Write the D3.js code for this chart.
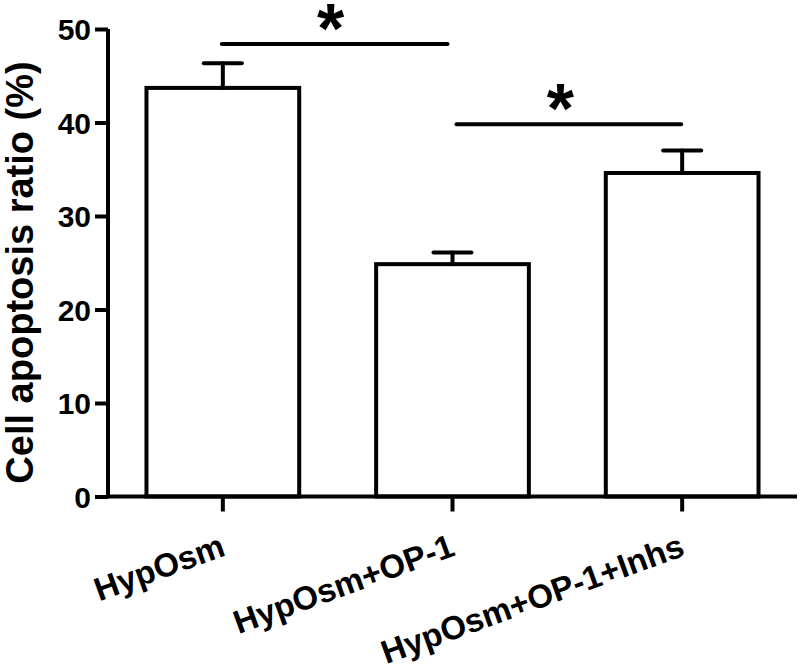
<!DOCTYPE html>
<html>
<head>
<meta charset="utf-8">
<script src="https://cdn.jsdelivr.net/npm/d3@7"></script>
<style>
  body { margin: 0; background: #fff; }
  svg text { font-family: "Liberation Sans", Arial, sans-serif; font-weight: bold; fill: #000; }
</style>
</head>
<body>
<div id="chart"></div>
<script>
// data
var groups = ["HypOsm", "HypOsm+OP-1", "HypOsm+OP-1+Inhs"];
var means = [43.7, 24.85, 34.6];
var errs = [2.65, 1.25, 2.4];
var yTicks = [0, 10, 20, 30, 40, 50];
var sigFrom = ["HypOsm", "HypOsm+OP-1"];
var sigTo = ["HypOsm+OP-1", "HypOsm+OP-1+Inhs"];
var sigLevel = [48.4, 39.8];
var sigMark = ["*", "*"];

var width = 800, height = 669;
var x0 = 108, x1 = 797, yTop = 29, yBot = 496.5;

var svg = d3.select("#chart").append("svg")
  .attr("width", width)
  .attr("height", height);

var x = d3.scaleBand()
  .domain(groups)
  .range([x0, x1])
  .paddingInner(0.335)
  .paddingOuter(0.1675);

var y = d3.scaleLinear()
  .domain([0, 50])
  .range([yBot, yTop]);

var cx = function(d) { return x(d) + x.bandwidth() / 2; };

// bars
svg.selectAll("rect.bar")
  .data(groups)
  .enter()
  .append("rect")
  .attr("class", "bar")
  .attr("x", function(d) { return x(d); })
  .attr("y", function(d, i) { return y(means[i]); })
  .attr("width", x.bandwidth())
  .attr("height", function(d, i) { return yBot - y(means[i]); })
  .attr("fill", "#fff")
  .attr("stroke", "#000")
  .attr("stroke-width", 4);

// error bars (upper only)
var eb = svg.selectAll("g.err")
  .data(groups)
  .enter()
  .append("g")
  .attr("class", "err")
  .attr("stroke", "#000")
  .attr("stroke-width", 4)
  .attr("stroke-linecap", "round");

eb.append("line")
  .attr("x1", cx).attr("x2", cx)
  .attr("y1", function(d, i) { return y(means[i]); })
  .attr("y2", function(d, i) { return y(means[i] + errs[i]); });

eb.append("line")
  .attr("x1", function(d) { return cx(d) - 19; })
  .attr("x2", function(d) { return cx(d) + 19; })
  .attr("y1", function(d, i) { return y(means[i] + errs[i]); })
  .attr("y2", function(d, i) { return y(means[i] + errs[i]); });

// y axis
var yAxis = svg.append("g")
  .attr("transform", "translate(" + x0 + ",0)")
  .call(d3.axisLeft(y).tickValues(yTicks).tickSize(13).tickPadding(4));
yAxis.select(".domain").attr("d", "M0," + yBot + "V" + yTop);
yAxis.selectAll("path, line").attr("stroke", "#000").attr("stroke-width", 4);
yAxis.selectAll("text")
  .style("font-family", "Liberation Sans, Arial, sans-serif")
  .style("font-weight", "bold")
  .attr("font-size", 30)
  .attr("dy", "0.36em")
  .attr("fill", "#000");

// x axis
var xAxis = svg.append("g")
  .attr("transform", "translate(0," + yBot + ")")
  .call(d3.axisBottom(x).tickSize(15).tickFormat(""));
xAxis.select(".domain").attr("d", "M" + (x0 - 2) + ",0H" + x1);
xAxis.selectAll("path, line").attr("stroke", "#000").attr("stroke-width", 4);

// rotated category labels
svg.selectAll("text.xlab")
  .data(groups)
  .enter()
  .append("text")
  .attr("class", "xlab")
  .attr("text-anchor", "end")
  .attr("font-size", 33)
  .attr("transform", function(d) {
    return "translate(" + (cx(d) + 4) + ",555) rotate(-20)";
  })
  .text(function(d) { return d; });

// y title
svg.append("text")
  .attr("text-anchor", "middle")
  .attr("font-size", 38)
  .attr("transform", "translate(33," + ((58 + 487) / 2) + ") rotate(-90)")
  .text("Cell apoptosis ratio (%)");

// significance brackets
var sig = svg.selectAll("g.sig")
  .data(sigLevel)
  .enter()
  .append("g")
  .attr("class", "sig");

sig.append("line")
  .attr("x1", function(d, i) { return cx(sigFrom[i]) + (i === 0 ? -1 : 4); })
  .attr("x2", function(d, i) { return cx(sigTo[i]) - (i === 0 ? 5 : 1); })
  .attr("y1", function(d) { return y(d); })
  .attr("y2", function(d) { return y(d); })
  .attr("stroke", "#000")
  .attr("stroke-width", 4)
  .attr("stroke-linecap", "round");

sig.append("text")
  .attr("text-anchor", "middle")
  .attr("font-size", 70)
  .attr("x", function(d, i) { return (cx(sigFrom[i]) + cx(sigTo[i])) / 2 - 7; })
  .attr("y", function(d) { return y(d) + 9; })
  .text(function(d, i) { return sigMark[i]; });
</script>
</body>
</html>
